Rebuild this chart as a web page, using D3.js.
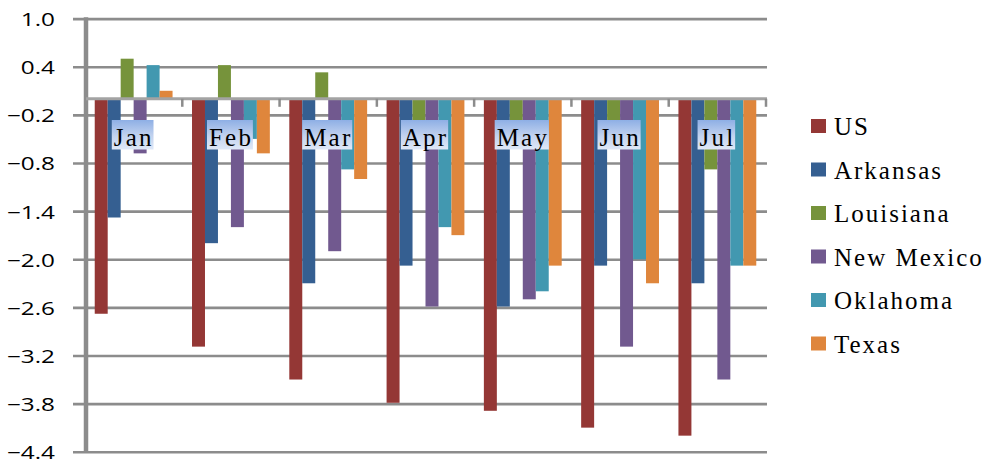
<!DOCTYPE html>
<html>
<head>
<meta charset="utf-8">
<script src="https://cdn.jsdelivr.net/npm/d3@7"></script>
<style>
  html, body { margin: 0; padding: 0; background: #fff; }
  svg { display: block; }
</style>
</head>
<body>
<svg id="chart" width="983" height="462"></svg>
<script>
// Monthly change by region
const categories = ["Jan", "Feb", "Mar", "Apr", "May", "Jun", "Jul"];
const seriesNames = ["US", "Arkansas", "Louisiana", "New Mexico", "Oklahoma", "Texas"];
const us        = [-2.68, -3.09, -3.50, -3.79, -3.89, -4.10, -4.20];
const arkansas  = [-1.48, -1.80, -2.30, -2.08, -2.59, -2.08, -2.30];
const louisiana = [ 0.50,  0.42,  0.33, -0.40, -0.40, -0.40, -0.88];
const newMexico = [-0.68, -1.60, -1.90, -2.59, -2.50, -3.09, -3.50];
const oklahoma  = [ 0.42, -0.50, -0.88, -1.60, -2.40, -2.00, -2.08];
const texas     = [ 0.10, -0.68, -1.00, -1.70, -2.08, -2.30, -2.08];
const yTicks = [1.0, 0.4, -0.2, -0.8, -1.4, -2.0, -2.6, -3.2, -3.8, -4.4];

const seriesValues = [us, arkansas, louisiana, newMexico, oklahoma, texas];
const colors = ["#943735", "#355f91", "#76933b", "#71598f", "#4298b0", "#df863c"];
const serifFont = "'Liberation Serif', 'Times New Roman', serif";
const sansFont = "'Open Sans', 'Liberation Sans', sans-serif";

const svg = d3.select("#chart");

// measure natural text width for a font setting
function textWidth(str, family, size) {
  const t = svg.append("text").attr("font-family", family).attr("font-size", size).text(str);
  const w = t.node().getComputedTextLength();
  t.remove();
  return w;
}

const x0 = d3.scaleBand().domain(categories).range([85, 766])
  .paddingInner(0.2).paddingOuter(0.1);
const x1 = d3.scaleBand().domain(seriesNames).range([0, x0.bandwidth()]);
const y = d3.scaleLinear().domain([-4.4, 1.0]).range([451.7, 18.6]);

// gradient for month label boxes
const defs = svg.append("defs");
const grad = defs.append("linearGradient").attr("id", "lblGrad")
  .attr("x1", 0).attr("y1", 0).attr("x2", 0).attr("y2", 1);
grad.append("stop").attr("offset", "0%").attr("stop-color", "#8eafe5");
grad.append("stop").attr("offset", "55%").attr("stop-color", "#c3d3ef");
grad.append("stop").attr("offset", "100%").attr("stop-color", "#dfe8f7");

// horizontal gridlines with outward ticks
const gy = svg.append("g").attr("transform", "translate(767,0)")
  .call(d3.axisLeft(y).tickValues(yTicks).tickSize(767 - 73).tickFormat(""));
gy.select(".domain").remove();
gy.selectAll(".tick line").attr("stroke", "#8c8c8c").attr("stroke-width", 2.6);

// y tick labels, widened horizontally
const ySize = 17.5;
const yScaleX = 42 / textWidth("-0.2", sansFont, ySize);
gy.selectAll(".tick").each(function(d) {
  d3.select(this).append("g")
    .attr("transform", `translate(${55 - 767},7) scale(${yScaleX},1)`)
    .append("text")
    .attr("text-anchor", "end")
    .attr("font-family", sansFont)
    .attr("font-size", ySize)
    .attr("fill", "#000")
    .text(d3.format(".1f")(d));
});

// vertical axis line
svg.append("line")
  .attr("x1", 86).attr("x2", 86)
  .attr("y1", y(1.0) - 1.3).attr("y2", y(-4.4) + 1.3)
  .attr("stroke", "#8c8c8c").attr("stroke-width", 4.5);

// bars
const groups = svg.append("g").selectAll("g")
  .data(categories)
  .join("g")
  .attr("transform", d => `translate(${x0(d)},0)`);

groups.selectAll("rect")
  .data((d, i) => seriesNames.map((s, k) => ({ s, k, v: seriesValues[k][i] })))
  .join("rect")
  .attr("x", d => x1(d.s))
  .attr("width", x1.bandwidth())
  .attr("y", d => Math.min(y(d.v), y(0)))
  .attr("height", d => Math.abs(y(d.v) - y(0)))
  .attr("fill", d => colors[d.k]);

// category axis at zero
const step = x0.step();
const xStart = x0.range()[0];
svg.append("line")
  .attr("x1", 86).attr("x2", 767)
  .attr("y1", y(0)).attr("y2", y(0))
  .attr("stroke", "#a3a3a3").attr("stroke-width", 3);
svg.append("g").selectAll("line")
  .data(d3.range(1, categories.length + 1))
  .join("line")
  .attr("x1", i => xStart + i * step).attr("x2", i => xStart + i * step)
  .attr("y1", y(0)).attr("y2", y(0) + 8)
  .attr("stroke", "#8c8c8c").attr("stroke-width", 2.5);

// month labels in shaded boxes
const lblSize = 25;
const lblSpacing = 2.2;
const labels = svg.append("g").selectAll("g")
  .data(categories)
  .join("g")
  .attr("transform", d => `translate(${x0(d) + x0.bandwidth() / 2 - 1},0)`);
labels.each(function(d) {
  const g = d3.select(this);
  const rect = g.append("rect").attr("fill", "url(#lblGrad)");
  const txt = g.append("text")
    .attr("x", lblSpacing / 2)
    .attr("y", 146)
    .attr("text-anchor", "middle")
    .attr("font-family", serifFont)
    .attr("font-size", lblSize)
    .attr("letter-spacing", lblSpacing)
    .attr("fill", "#000")
    .text(d);
  const w = textWidth(d, serifFont, lblSize) + lblSpacing * (d.length - 1) + 4;
  rect.attr("x", -w / 2).attr("y", 120).attr("width", w).attr("height", 29.5);
});

// legend
const legSize = 25;
const legSpacing = ((109 + 145.7) -
  (textWidth("Arkansas", serifFont, legSize) + textWidth("New Mexico", serifFont, legSize))) / 16;
const legend = svg.append("g").selectAll("g")
  .data(seriesNames)
  .join("g")
  .attr("transform", (d, i) => `translate(811,${126 + i * 43.5})`);
legend.append("rect")
  .attr("x", 0).attr("y", -7).attr("width", 15).attr("height", 14)
  .attr("fill", (d, i) => colors[i]);
legend.append("text")
  .attr("x", 23)
  .attr("y", 9)
  .attr("font-family", serifFont)
  .attr("font-size", legSize)
  .attr("letter-spacing", legSpacing)
  .attr("fill", "#000")
  .text(d => d);
</script>
</body>
</html>
